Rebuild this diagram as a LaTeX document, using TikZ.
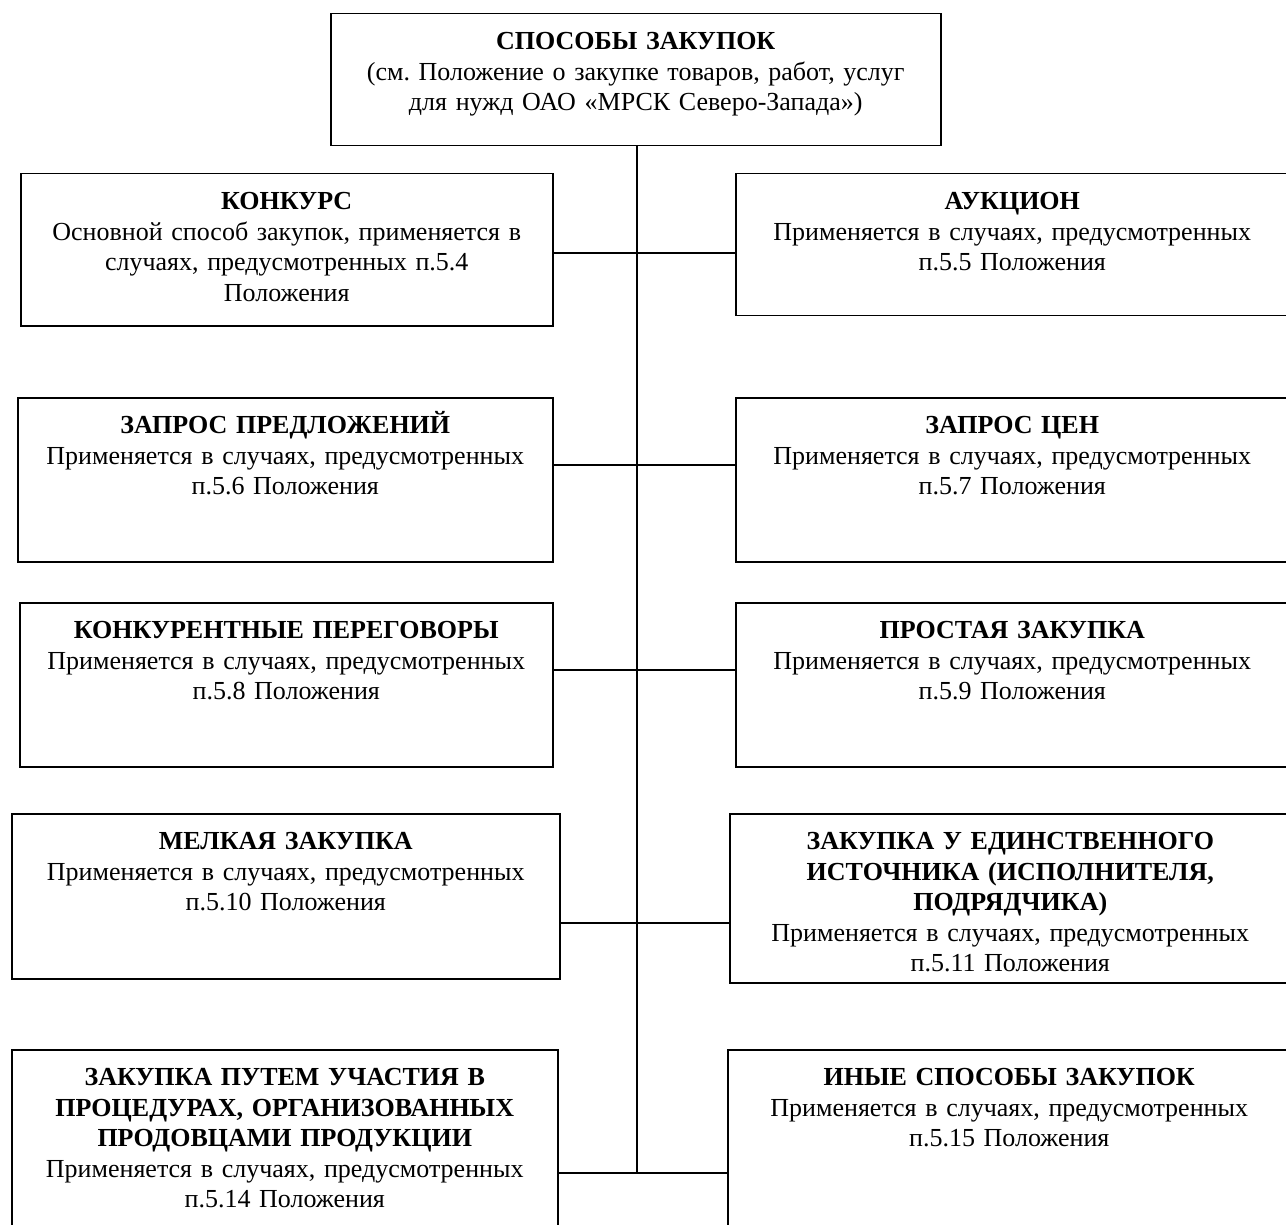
\documentclass[tikz,border=0pt]{standalone}
\usepackage{fontspec}
\setmainfont{Liberation Serif}
\usepackage{tikz}
\usetikzlibrary{positioning, calc}
\frenchspacing
\tikzset{
    sposob/.style={draw, line width=1.5pt, anchor=north west, align=center, inner xsep=0pt, inner ysep=16pt, text height=20pt, font=\fontsize{26}{30.5}\selectfont},
    svyaz/.style={line width=1.2pt},
}

\begin{document}
\begin{tikzpicture}[x=1pt, y=-1pt]
        \useasboundingbox (0,0) rectangle (1286,1225);
        \clip (0,0) rectangle (1286,1225);
        \node[sposob, text width=610pt, text depth=80pt] (sposoby) at (330,13) {\textbf{СПОСОБЫ ЗАКУПОК}\\(см. Положение о закупке товаров, работ, услуг\\для нужд ОАО «МРСК Северо-Запада»)};
        % left column
        \node[sposob, text width=532pt, text depth=100pt] (konkurs) at (20,173) {\textbf{КОНКУРС}\\Основной способ закупок, применяется в\\случаях, предусмотренных п.5.4\\Положения};
        \node[sposob, text width=535pt, text depth=112pt] (predl) at (17,397) {\textbf{ЗАПРОС ПРЕДЛОЖЕНИЙ}\\Применяется в случаях, предусмотренных\\п.5.6 Положения};
        \node[sposob, text width=533pt, text depth=112pt] (peregovory) at (19,602) {\textbf{КОНКУРЕНТНЫЕ ПЕРЕГОВОРЫ}\\Применяется в случаях, предусмотренных\\п.5.8 Положения};
        \node[sposob, text width=548pt, text depth=113pt] (melkaya) at (11,813) {\textbf{МЕЛКАЯ ЗАКУПКА}\\Применяется в случаях, предусмотренных\\п.5.10 Положения};
        \node[sposob, text width=546pt, text depth=159pt] (uchastie) at (11,1049) {\textbf{ЗАКУПКА ПУТЕМ УЧАСТИЯ В}\\\textbf{ПРОЦЕДУРАХ, ОРГАНИЗОВАННЫХ}\\\textbf{ПРОДОВЦАМИ ПРОДУКЦИИ}\\Применяется в случаях, предусмотренных\\п.5.14 Положения};
        % right column
        \node[sposob, text width=553pt, text depth=90pt] (aukcion) at (735,173) {\textbf{АУКЦИОН}\\Применяется в случаях, предусмотренных\\п.5.5 Положения};
        \node[sposob, text width=553pt, text depth=112pt] (ceny) at (735,397) {\textbf{ЗАПРОС ЦЕН}\\Применяется в случаях, предусмотренных\\п.5.7 Положения};
        \node[sposob, text width=553pt, text depth=112pt] (prostaya) at (735,602) {\textbf{ПРОСТАЯ ЗАКУПКА}\\Применяется в случаях, предусмотренных\\п.5.9 Положения};
        \node[sposob, text width=561pt, text depth=117pt] (edinstv) at (729,813) {\textbf{ЗАКУПКА У ЕДИНСТВЕННОГО}\\\textbf{ИСТОЧНИКА (ИСПОЛНИТЕЛЯ,}\\\textbf{ПОДРЯДЧИКА)}\\Применяется в случаях, предусмотренных\\п.5.11 Положения};
        \node[sposob, text width=563pt, text depth=159pt] (inye) at (727,1049) {\textbf{ИНЫЕ СПОСОБЫ ЗАКУПОК}\\Применяется в случаях, предусмотренных\\п.5.15 Положения};
        % trunk and branches
        \coordinate (j1) at (637,253);
        \coordinate (j2) at (637,465);
        \coordinate (j3) at (637,670);
        \coordinate (j4) at (637,923);
        \coordinate (j5) at (637,1173);
        \draw[svyaz] (sposoby.south -| j5) -- (j5);
        \draw[svyaz] (konkurs.east |- j1) -- (aukcion.west |- j1);
        \draw[svyaz] (predl.east |- j2) -- (ceny.west |- j2);
        \draw[svyaz] (peregovory.east |- j3) -- (prostaya.west |- j3);
        \draw[svyaz] (melkaya.east |- j4) -- (edinstv.west |- j4);
        \draw[svyaz] (uchastie.east |- j5) -- (inye.west |- j5);
    \end{tikzpicture}
\end{document}
